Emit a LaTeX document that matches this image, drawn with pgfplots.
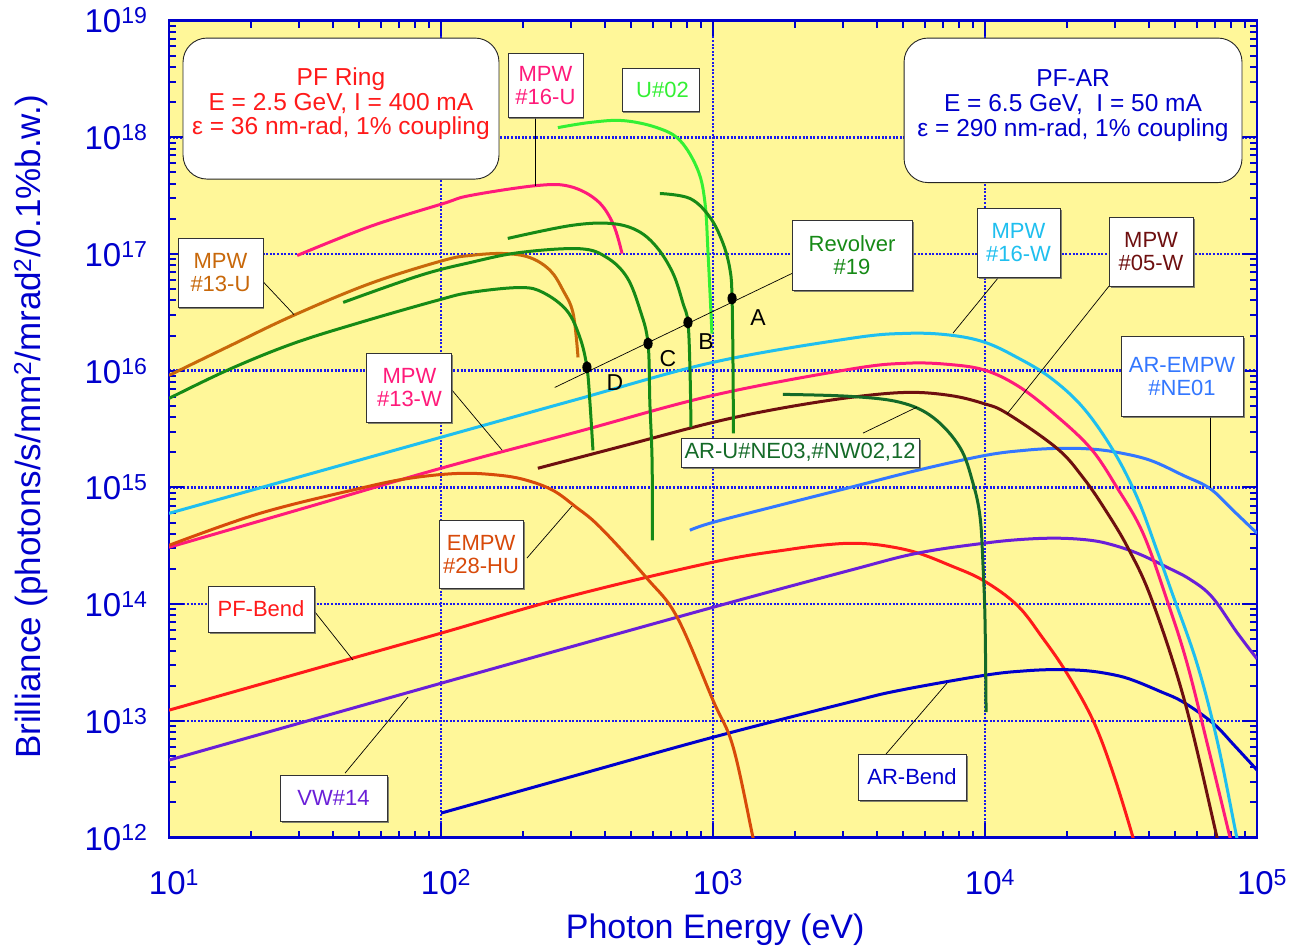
\documentclass[border=0pt]{standalone}
\usepackage{fontspec}
\setmainfont{Liberation Sans}
\usepackage{pgfplots}
\pgfplotsset{compat=1.18}
\usetikzlibrary{shadows}
\definecolor{bgY}{HTML}{FFF799}
\definecolor{axB}{HTML}{0000CC}
\definecolor{gridB}{HTML}{1A1AEE}
\definecolor{cRed}{HTML}{FF1A1A}
\definecolor{cPurple}{HTML}{6A1FD8}
\definecolor{cARB}{HTML}{0000CC}
\definecolor{cAREMPW}{HTML}{3377FF}
\definecolor{cCyan}{HTML}{1FBFEF}
\definecolor{cPink}{HTML}{FF1A7A}
\definecolor{cMaroon}{HTML}{6E0F0F}
\definecolor{cEMPW}{HTML}{D84A0A}
\definecolor{cMPWU}{HTML}{C8680A}
\definecolor{cGreen}{HTML}{168A16}
\definecolor{cLGreen}{HTML}{33F033}
\definecolor{cDGreen}{HTML}{146A28}
\tikzset{
  lbl/.style={draw=black!80, fill=white, line width=0.9pt, align=center, inner sep=0pt,
    font=\fontsize{22}{23}\selectfont,
    drop shadow={shadow xshift=1.5pt, shadow yshift=-1.5pt, fill=black!60, opacity=0.8}},
  lead/.style={black, line width=0.7pt},
  crv/.style={line width=3pt, smooth, tension=0.6}
}
\begin{document}
\begin{tikzpicture}
\begin{axis}[
  at={(0,0)}, anchor=south west,
  scale only axis, width=1088pt, height=817pt,
  xmode=log, ymode=log,
  xmin=10, xmax=100000, ymin=1e12, ymax=1e19,
  axis background/.style={fill=bgY},
  axis line style={axB, line width=2.5pt},
  xtick={10,100,1000,10000,100000},
  xticklabels={10\textsuperscript{1},10\textsuperscript{2},10\textsuperscript{3},10\textsuperscript{4},10\textsuperscript{5}},
  ytick={1e12,1e13,1e14,1e15,1e16,1e17,1e18,1e19},
  yticklabels={10\textsuperscript{12},10\textsuperscript{13},10\textsuperscript{14},10\textsuperscript{15},10\textsuperscript{16},10\textsuperscript{17},10\textsuperscript{18},10\textsuperscript{19}},
  minor xtick={20,30,40,50,60,70,80,90,200,300,400,500,600,700,800,900,2000,3000,4000,5000,6000,7000,8000,9000,20000,30000,40000,50000,60000,70000,80000,90000},
  minor ytick={2e12,3e12,4e12,5e12,6e12,7e12,8e12,9e12,2e13,3e13,4e13,5e13,6e13,7e13,8e13,9e13,2e14,3e14,4e14,5e14,6e14,7e14,8e14,9e14,2e15,3e15,4e15,5e15,6e15,7e15,8e15,9e15,2e16,3e16,4e16,5e16,6e16,7e16,8e16,9e16,2e17,3e17,4e17,5e17,6e17,7e17,8e17,9e17,2e18,3e18,4e18,5e18,6e18,7e18,8e18,9e18},
  tick align=inside,
  major tick length=15pt, minor tick length=7pt,
  every tick/.style={axB, line width=2pt},
  xmajorgrids, ymajorgrids,
  major grid style={gridB, line width=2.5pt, dash pattern=on 2pt off 1.6pt},
  tick label style={axB, font=\fontsize{33}{36}\selectfont},
  xticklabel style={yshift=-28pt, xshift=5pt},
  yticklabel style={xshift=-18pt},
  xlabel={Photon Energy (eV)},
  ylabel={Brilliance (photons/s/mm\textsuperscript{2}/mrad\textsuperscript{2}/0.1\%b.w.)},
  label style={axB},
  xlabel style={font=\fontsize{34}{36}\selectfont, at={(axis description cs:0.502,-0.113)}, anchor=center},
  ylabel style={font=\fontsize{35}{37}\selectfont, at={(axis description cs:-0.127,0.503)}, anchor=center},
]
% PF-Bend
\addplot[crv, cRed] coordinates {(10,1.235e13) (31.6,2.64e13) (100,5.64e13) (290,1.15e14) (1000,2.29e14) (1919,2.95e14) (2700,3.25e14) (3400,3.32e14) (4300,3.16e14) (5623,2.76e14) (7430,2.15e14) (9840,1.60e14) (13120,9.80e13) (16220,5.21e13) (20000,2.56e13) (24950,1.01e13) (29580,3.56e12) (35000,1.0e12) (35560,7.8e11)};
% VW#14
\addplot[crv, cPurple] coordinates {(10,4.61e12) (100,2.10e13) (1000,9.40e13) (3190,1.95e14) (5623,2.73e14) (9840,3.32e14) (14000,3.6e14) (19000,3.67e14) (25000,3.50e14) (30550,3.14e14) (37150,2.67e14) (46700,2.07e14) (56750,1.63e14) (68400,1.15e14) (84300,5.74e13) (100000,3.4e13)};
% AR-Bend
\addplot[crv, cARB] coordinates {(100,1.62e12) (316,3.43e12) (1000,7.24e12) (3190,1.45e13) (4875,1.83e13) (10000,2.46e13) (14000,2.68e13) (18400,2.75e13) (24000,2.68e13) (30000,2.47e13) (35000,2.23e13) (44000,1.79e13) (53500,1.45e13) (68900,9.55e12) (83000,6.07e12) (100000,3.79e12)};
% AR-EMPW #NE01
\addplot[crv, cAREMPW] coordinates {(822,4.30e14) (1000,5.02e14) (1762,7.05e14) (3190,1.00e15) (5623,1.40e15) (10000,1.88e15) (14000,2.08e15) (18400,2.16e15) (24000,2.14e15) (30550,2.00e15) (40450,1.71e15) (53500,1.27e15) (67100,9.8e14) (81600,6.37e14) (100000,4.05e14)};
% MPW#16-W
\addplot[crv, cCyan] coordinates {(10,6.00e14) (31.6,1.27e15) (100,2.69e15) (316,5.68e15) (1000,1.18e16) (3190,1.89e16) (5164,2.09e16) (7430,2.02e16) (10000,1.75e16) (13120,1.30e16) (17340,8.77e15) (22900,4.85e15) (29580,2.08e15) (36250,8.22e14) (42850,2.89e14) (48300,1.32e14) (60100,3.12e13) (71300,6.84e12) (84300,1.0e12) (86700,7.8e11)};
% MPW#13-W
\addplot[crv, cPink] coordinates {(10,3.07e14) (31.6,6.68e14) (100,1.46e15) (316,2.99e15) (1000,6.15e15) (3190,1.03e16) (5164,1.16e16) (7430,1.13e16) (10000,1.01e16) (13120,7.48e15) (17340,4.57e15) (24300,2.20e15) (30550,1.00e15) (38100,4.05e14) (46700,1.08e14) (55300,3.12e13) (66100,5.96e12) (79600,1.0e12) (81700,7.8e11)};
% MPW#05-W
\addplot[crv, cMaroon] coordinates {(227,1.46e15) (475,2.29e15) (1000,3.61e15) (1762,4.75e15) (3190,5.90e15) (5164,6.52e15) (7430,6.14e15) (9840,5.25e15) (12050,4.31e15) (18400,2.16e15) (22900,1.22e15) (27600,6.50e14) (33600,3.01e14) (41100,1.08e14) (54300,1.45e13) (71300,1.0e12) (73100,7.8e11)};
% EMPW#28-HU
\addplot[crv, cEMPW] coordinates {(10,3.19e14) (21.6,6.00e14) (50.4,9.82e14) (76.9,1.20e15) (117.5,1.32e15) (164.8,1.27e15) (207,1.15e15) (258,9.44e14) (311,6.89e14) (385,4.55e14) (571,1.67e14) (738,7.73e13) (1000,1.50e13) (1186,5.96e12) (1403,1.0e12) (1439,7.8e11)};
% MPW#13-U
\addplot[crv, cMPWU] coordinates {(10,9.12e15) (16.7,1.63e16) (28.6,2.97e16) (54.8,5.58e16) (101.6,8.79e16) (128,9.71e16) (169,1.01e17) (212,9.33e16) (252,7.23e16) (281,4.88e16) (306,3.10e16) (319,1.30e16)};
% MPW#16-U
\addplot[crv, cPink] coordinates {(29.6,9.71e16) (54.8,1.72e17) (101.6,2.70e17) (128,3.17e17) (225,3.86e17) (298,3.79e17) (375,2.87e17) (429,1.82e17) (463,1.01e17)};
% U#02
\addplot[crv, cLGreen] coordinates {(269,1.21e18) (353,1.34e18) (467,1.39e18) (622,1.21e18) (757,9.37e17) (881,5.19e17) (935,2.70e17) (959,1.01e17) (991,2.08e16)};
% Revolver #19 curve D
\addplot[crv, cGreen] coordinates {(10,5.79e15) (16.7,1.03e16) (28.6,1.71e16) (50.4,2.59e16) (96.6,4.00e16) (128,4.68e16) (195,5.16e16) (237,4.68e16) (290,3.28e16) (324,1.93e16) (344,1.07e16) (353,5.25e15) (362,2.08e15)};
% curve C
\addplot[crv, cGreen] coordinates {(43.7,3.85e16) (83.7,6.55e16) (128,8.45e16) (195,1.03e17) (324,1.11e17) (407,9.33e16) (483,6.30e16) (540,3.28e16) (577,1.71e16) (586,5.25e15) (597,1.71e15) (599,3.52e14)};
% curve B
\addplot[crv, cGreen] coordinates {(176,1.36e17) (298,1.75e17) (418,1.83e17) (526,1.59e17) (622,1.14e17) (713,6.81e16) (776,3.77e16) (809,2.59e16) (823,1.01e16) (830,3.27e15)};
% curve A
\addplot[crv, cGreen] coordinates {(638,3.30e17) (823,2.99e17) (975,2.06e17) (1089,1.23e17) (1156,7.23e16) (1175,4.16e16) (1185,1.01e16) (1188,2.90e15)};
% AR-U#NE03
\addplot[crv, cDGreen] coordinates {(1807,6.27e15) (3190,6.03e15) (4875,5.36e15) (6442,3.98e15) (8090,2.20e15) (9040,1.08e15) (9594,5.54e14) (9840,2.07e14) (10000,7.28e13) (10090,1.19e13)};
% Revolver harmonic line and points
\addplot[lead] coordinates {(262,7.19e15) (1950,6.81e16)};
\addplot[only marks, mark=*, mark size=4.3pt, black, mark options={yscale=1.35}] coordinates {(344,1.07e16) (577,1.71e16) (809,2.59e16) (1175,4.16e16)};

% leader lines
\draw[lead] (axis description cs:0.3364,0.8819) -- (axis description cs:0.3364,0.7974);
\draw[lead] (axis description cs:0.7619,0.6848) -- (axis description cs:0.7206,0.6175);
\draw[lead] (axis description cs:0.8640,0.6750) -- (axis description cs:0.7702,0.5184);
\draw[lead] (axis description cs:0.9568,0.5159) -- (axis description cs:0.9568,0.4278);
\draw[lead] (axis description cs:0.0864,0.6805) -- (axis description cs:0.1149,0.6401);
\draw[lead] (axis description cs:0.2601,0.5477) -- (axis description cs:0.3061,0.4743);
\draw[lead] (axis description cs:0.3290,0.3421) -- (axis description cs:0.3704,0.4058);
\draw[lead] (axis description cs:0.1342,0.2760) -- (axis description cs:0.1691,0.2173);
\draw[lead] (axis description cs:0.1618,0.0789) -- (axis description cs:0.2197,0.1720);
\draw[lead] (axis description cs:0.6590,0.1022) -- (axis description cs:0.7151,0.1891);
\draw[lead] (axis description cs:0.6379,0.4951) -- (axis description cs:0.6875,0.5269);

% big boxes
\draw[fill=white, draw=black!85, line width=0.9pt, rounded corners=24pt] (axis description cs:0.0129,0.9786) rectangle (axis description cs:0.3033,0.8060);
\node[cRed, align=center, font=\fontsize{24.5}{24.5}\selectfont] at (axis description cs:0.158,0.8978) {PF Ring\\E = 2.5 GeV, I = 400 mA\\ε = 36 nm-rad, 1\% coupling};
\draw[fill=white, draw=black!85, line width=0.9pt, rounded corners=24pt] (axis description cs:0.6756,0.9786) rectangle (axis description cs:0.9862,0.8017);
\node[axB, align=center, font=\fontsize{24.5}{25}\selectfont] at (axis description cs:0.8309,0.8955) {PF-AR\\E = 6.5 GeV,\ \ I = 50 mA\\ε = 290 nm-rad, 1\% coupling};

% label boxes
\node[lbl, text=cPink, minimum width=75pt, minimum height=64pt] at (axis description cs:0.3460,0.9211) {MPW\\\#16-U};
\node[lbl, text=cLGreen, minimum width=77pt, minimum height=43pt] at (axis description cs:0.4517,0.9155) {\hspace*{4pt}U\#02};
\node[lbl, text=cGreen, minimum width=120pt, minimum height=70pt] at (axis description cs:0.6278,0.7130) {Revolver\\\#19};
\node[lbl, text=cCyan, minimum width=83pt, minimum height=69pt] at (axis description cs:0.7808,0.7283) {MPW\\\#16-W};
\node[lbl, text=cMaroon, minimum width=84pt, minimum height=69pt] at (axis description cs:0.9026,0.7173) {MPW\\\#05-W};
\node[lbl, text=cAREMPW, minimum width=122pt, minimum height=80pt] at (axis description cs:0.9311,0.5649) {AR-EMPW\\\#NE01};
\node[lbl, text=cMPWU, minimum width=85pt, minimum height=69pt] at (axis description cs:0.0473,0.6916) {MPW\\\#13-U};
\node[lbl, text=cPink, minimum width=85pt, minimum height=69pt] at (axis description cs:0.2210,0.5508) {MPW\\\#13-W};
\node[lbl, text=cEMPW, minimum width=84pt, minimum height=68pt] at (axis description cs:0.2868,0.3470) {EMPW\\\#28-HU};
\node[lbl, text=cRed, minimum width=106pt, minimum height=46pt] at (axis description cs:0.0846,0.2797) {PF-Bend};
\node[lbl, text=cPurple, minimum width=107pt, minimum height=46pt] at (axis description cs:0.1512,0.0483) {VW\#14};
\node[lbl, text=cARB, minimum width=108pt, minimum height=46pt] at (axis description cs:0.6829,0.0740) {AR-Bend};
\node[lbl, text=cDGreen, minimum width=238pt, minimum height=29pt] at (axis description cs:0.5800,0.4712) {AR-U\#NE03,\#NW02,12};

% letters
\node[black, font=\fontsize{23}{24}\selectfont] at (axis description cs:0.5414,0.6359) {A};
\node[black, font=\fontsize{23}{24}\selectfont] at (axis description cs:0.4936,0.6065) {B};
\node[black, font=\fontsize{23}{24}\selectfont] at (axis description cs:0.4586,0.5869) {C};
\node[black, font=\fontsize{23}{24}\selectfont] at (axis description cs:0.4099,0.5575) {D};
\end{axis}
\pgfresetboundingbox
\path[use as bounding box] (-169pt,-110.5pt) rectangle (1130pt,837.6pt);
\end{tikzpicture}
\end{document}
